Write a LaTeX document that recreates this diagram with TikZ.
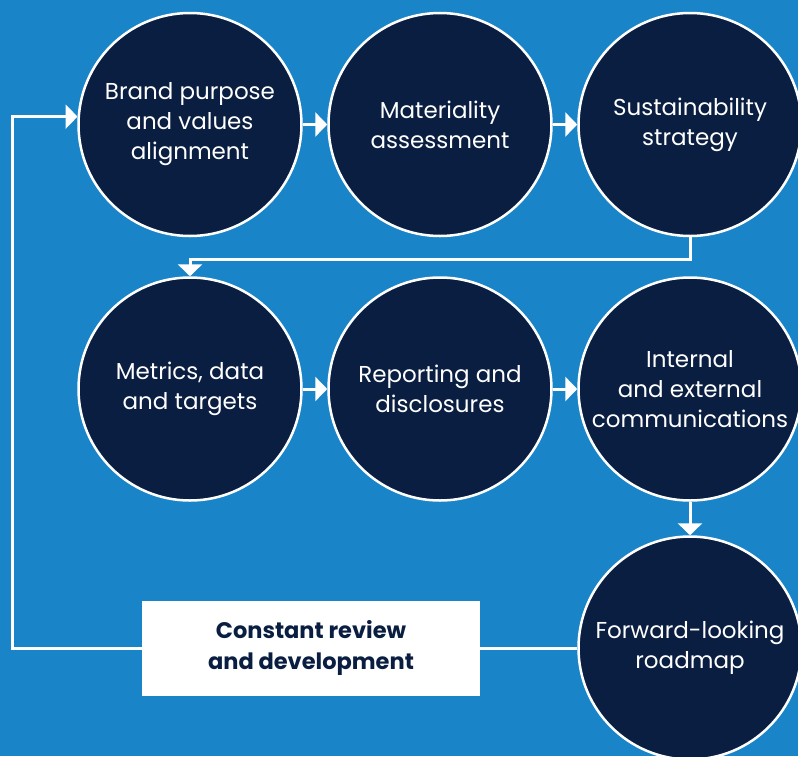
\documentclass[tikz,border=0pt]{standalone}
\usepackage{fontspec}
\setmainfont{Poppins}
\usetikzlibrary{arrows.meta}
\definecolor{bgblue}{RGB}{25,132,200}
\definecolor{navy}{RGB}{10,30,65}
\begin{document}
\begin{tikzpicture}[x=1pt,y=-1pt,
  stage/.style={circle,fill=navy,draw=white,line width=2.5pt,minimum size=223pt,
    inner sep=0pt,text=white,align=center,font=\fontsize{23}{30}\selectfont},
  flow/.style={draw=white,line width=3pt},
  arr/.style={flow,-{Triangle[length=12pt,width=24pt]}},
  note/.style={fill=white,minimum width=338pt,minimum height=95pt,inner sep=0pt,
    text=navy,align=center,font=\fontsize{22.5}{31}\selectfont\bfseries}]
\useasboundingbox (0,0) rectangle (798,756);
\fill[bgblue] (0,0) rectangle (798,756);

% first row
\node[stage] (c1) at (190,124.5) {Brand purpose\\and values\\alignment};
\node[stage] (c2) at (440,124.5) {Materiality\\assessment};
\node[stage] (c3) at (690,124.5) {Sustainability\\strategy};
% second row
\node[stage] (c4) at (190,389) {Metrics, data\\and targets};
\node[stage] (c5) at (440,389) {Reporting and\\disclosures};
\node[stage] (c6) at (690,389) {Internal\\and external\\communications};
% final stage
\node[stage] (c7) at (690,648) {Forward-looking\\roadmap};

\node[note] (rev) at (311,648) {Constant review\\and development};

% connectors
\draw[arr] (c1) -- (c2);
\draw[arr] (c2) -- (c3);
\draw[arr] (c3.south) -- ++(0,22) -| (c4.north);
\draw[arr] (c4) -- (c5);
\draw[arr] (c5) -- (c6);
\draw[arr] (c6) -- (c7);
\draw[flow] (c7.west) -- (rev.east);
\coordinate (loopcorner) at (12,648);
\draw[arr] (rev.west) -- (loopcorner) |- (c1.176);
\end{tikzpicture}
\end{document}
